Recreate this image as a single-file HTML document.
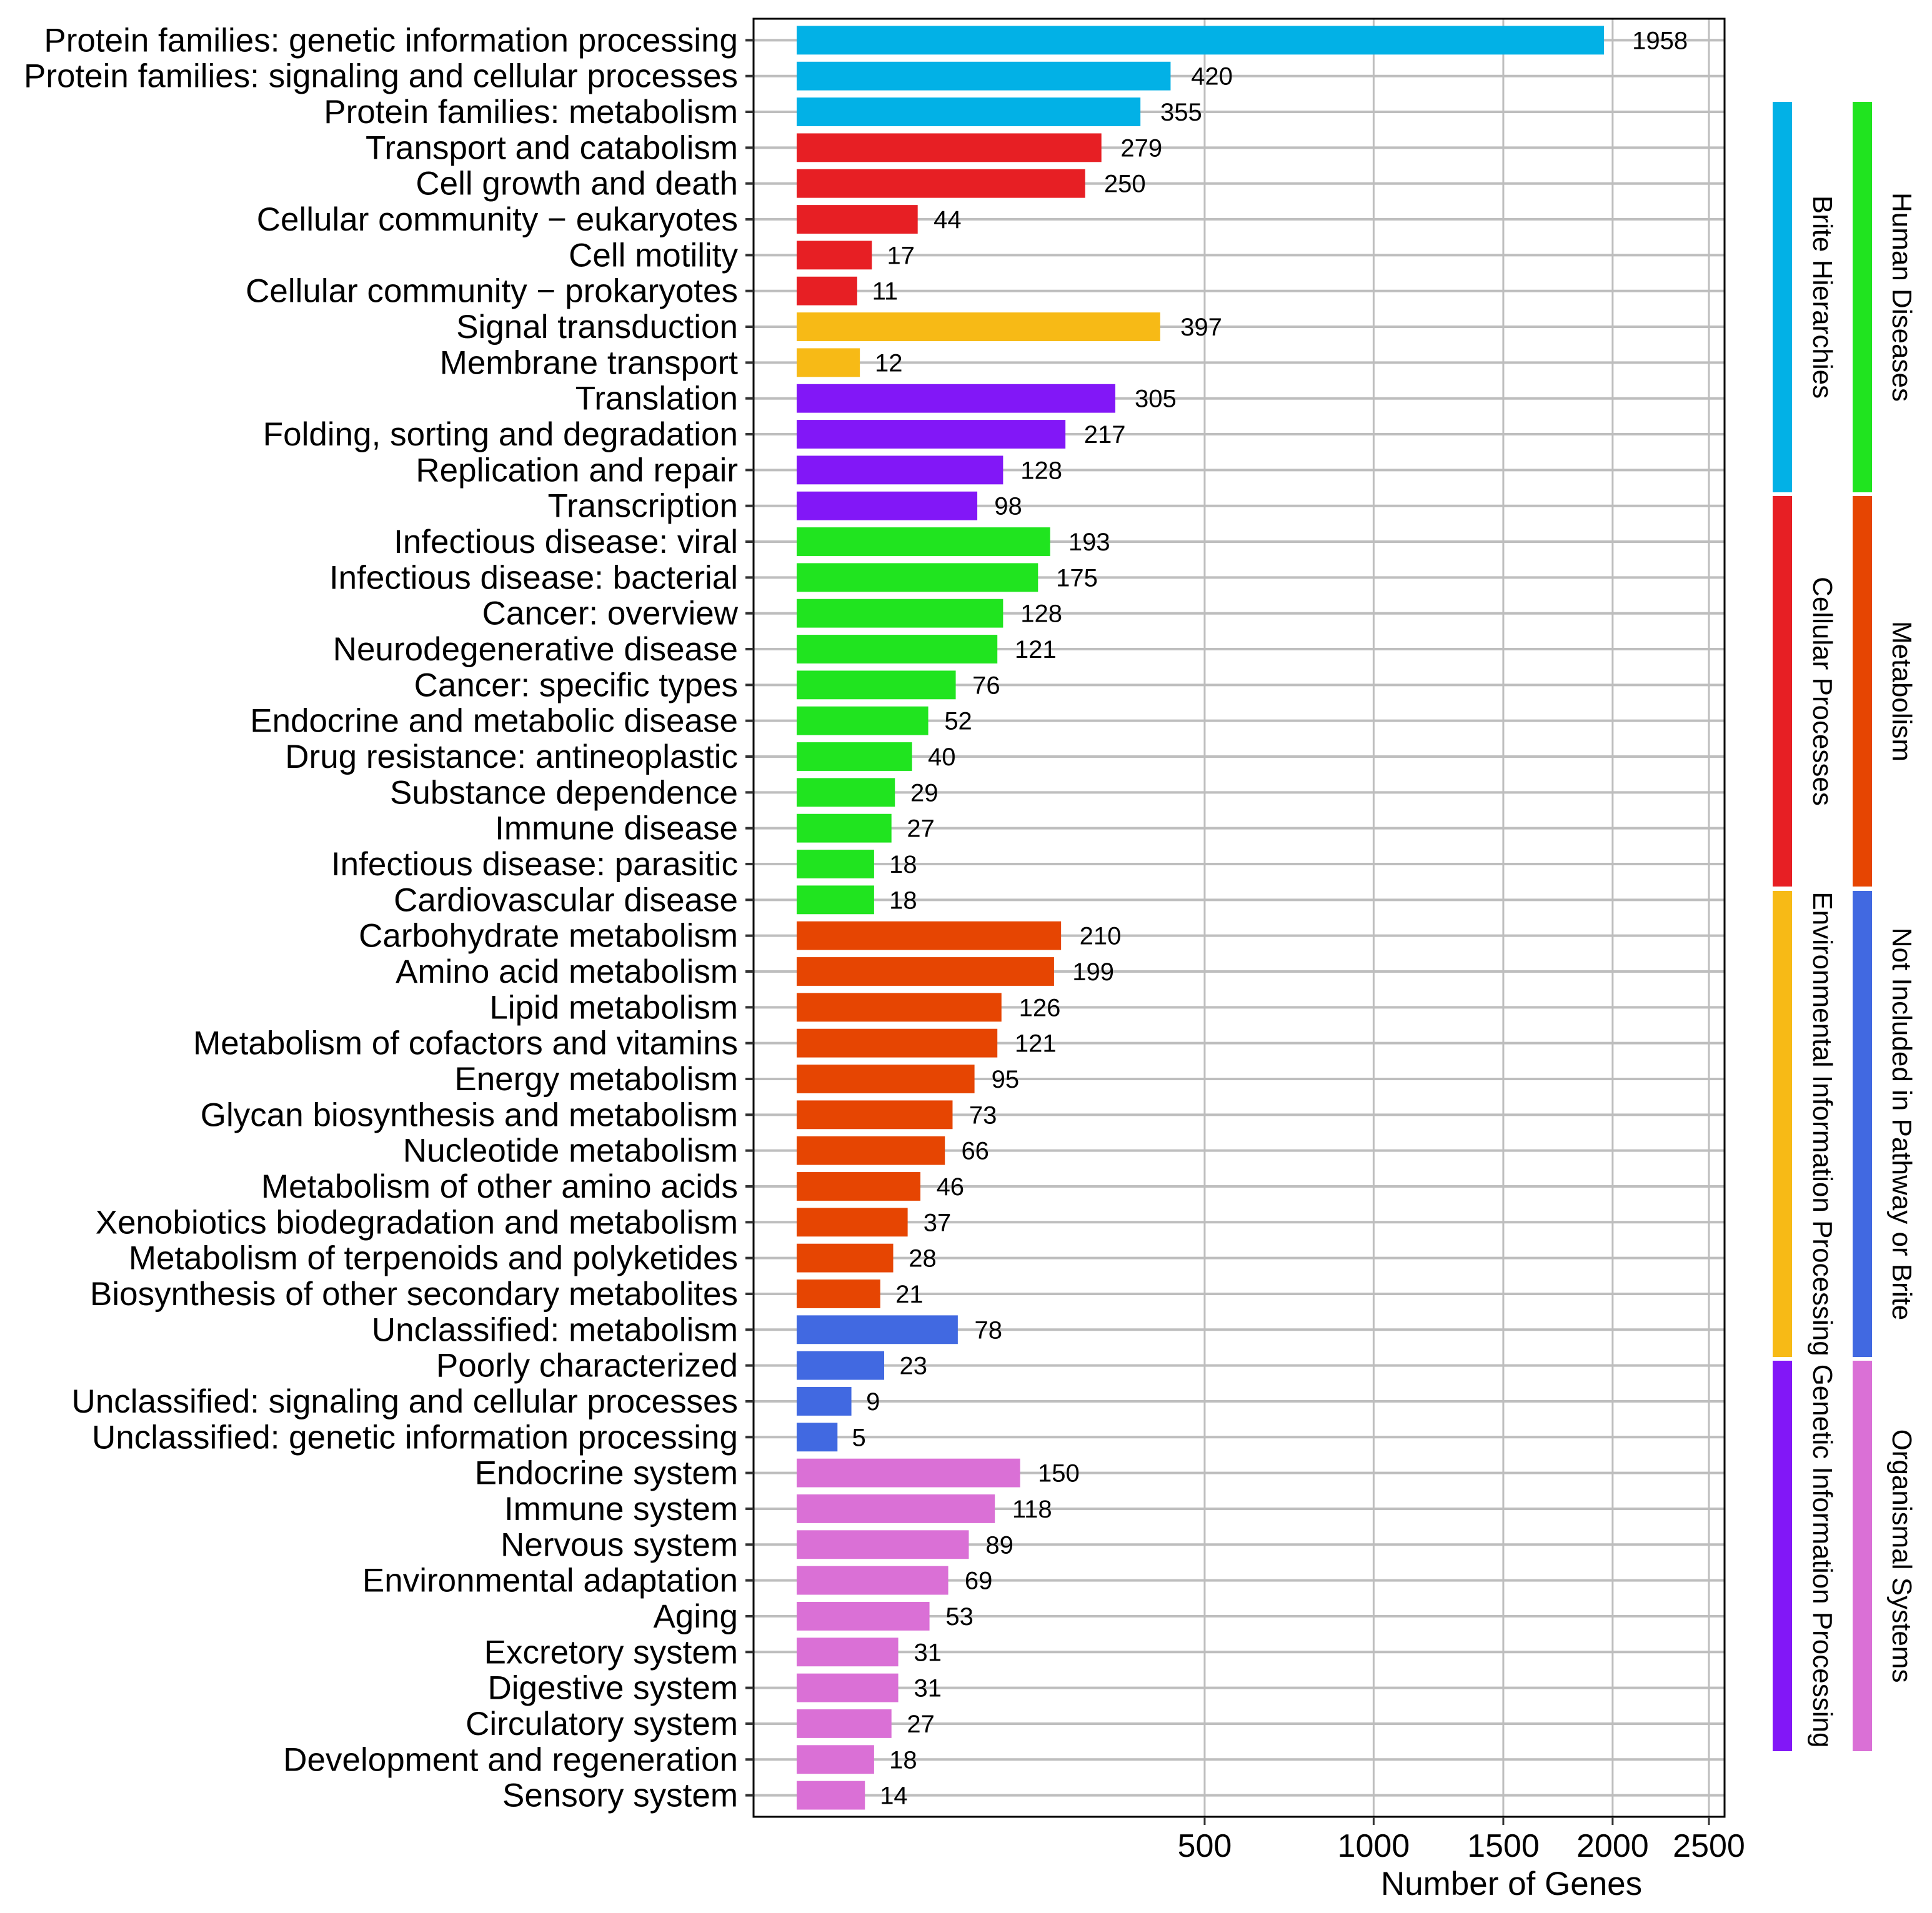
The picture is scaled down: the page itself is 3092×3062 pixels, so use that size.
<!DOCTYPE html>
<html><head><meta charset="utf-8"><style>
html,body{margin:0;padding:0;background:#fff;}
svg{display:block;font-family:"Liberation Sans",Arial,sans-serif;}
</style></head><body>
<svg id="chart" width="3092" height="3062" viewBox="0 0 3092 3062" xmlns="http://www.w3.org/2000/svg">
<rect x="0" y="0" width="3092" height="3062" fill="#fff"/>
<g id="grid"></g>
<g id="bars"></g>
<g id="vals"></g>
<rect x="1206" y="30" width="1554" height="2878" fill="none" stroke="#000" stroke-width="3"/>
<g id="yaxis"></g>
<g id="xaxis"></g>
<text x="2419" y="3033" font-size="53" text-anchor="middle">Number of Genes</text>
<g id="legend"></g>
</svg>
<script>
const categories = ["Protein families: genetic information processing","Protein families: signaling and cellular processes","Protein families: metabolism","Transport and catabolism","Cell growth and death","Cellular community \u2212 eukaryotes","Cell motility","Cellular community \u2212 prokaryotes","Signal transduction","Membrane transport","Translation","Folding, sorting and degradation","Replication and repair","Transcription","Infectious disease: viral","Infectious disease: bacterial","Cancer: overview","Neurodegenerative disease","Cancer: specific types","Endocrine and metabolic disease","Drug resistance: antineoplastic","Substance dependence","Immune disease","Infectious disease: parasitic","Cardiovascular disease","Carbohydrate metabolism","Amino acid metabolism","Lipid metabolism","Metabolism of cofactors and vitamins","Energy metabolism","Glycan biosynthesis and metabolism","Nucleotide metabolism","Metabolism of other amino acids","Xenobiotics biodegradation and metabolism","Metabolism of terpenoids and polyketides","Biosynthesis of other secondary metabolites","Unclassified: metabolism","Poorly characterized","Unclassified: signaling and cellular processes","Unclassified: genetic information processing","Endocrine system","Immune system","Nervous system","Environmental adaptation","Aging","Excretory system","Digestive system","Circulatory system","Development and regeneration","Sensory system"];
const values = [1958,420,355,279,250,44,17,11,397,12,305,217,128,98,193,175,128,121,76,52,40,29,27,18,18,210,199,126,121,95,73,66,46,37,28,21,78,23,9,5,150,118,89,69,53,31,31,27,18,14];
const groups = ["B","B","B","C","C","C","C","C","E","E","G","G","G","G","H","H","H","H","H","H","H","H","H","H","H","M","M","M","M","M","M","M","M","M","M","M","N","N","N","N","O","O","O","O","O","O","O","O","O","O"];
const groupNames = {B:"Brite Hierarchies",C:"Cellular Processes",E:"Environmental Information Processing",G:"Genetic Information Processing",H:"Human Diseases",M:"Metabolism",N:"Not Included in Pathway or Brite",O:"Organismal Systems"};
const groupColors = {B:"#02B1E6",C:"#E71F24",E:"#F7BA16",G:"#8217F7",H:"#20E41F",M:"#E64502",N:"#4169E1",O:"#DA70D6"};
const xTicks = [500,1000,1500,2000,2500];

const NS="http://www.w3.org/2000/svg";
function mk(tag,attrs,parent){const e=document.createElementNS(NS,tag);for(const k in attrs)e.setAttribute(k,attrs[k]);parent.appendChild(e);return e;}
const X0=1275,K=29.2;
function xs(v){return X0+Math.sqrt(v)*K;}
const panelTop=30,panelBot=2908,n=categories.length;
const step=(panelBot-panelTop)/(n-1+1.2);
function ys(i){return panelTop+step*(0.6+i);}
const bh=step*0.8;

const grid=document.getElementById('grid'),bars=document.getElementById('bars'),vals=document.getElementById('vals'),yaxis=document.getElementById('yaxis'),xaxis=document.getElementById('xaxis');
xTicks.forEach(t=>{
  const gl=mk('line',{x1:xs(t),x2:xs(t),y1:panelTop,y2:panelBot,stroke:'#BEBEBE','stroke-width':3},grid);
  
  
  const tk=mk('line',{x1:xs(t),x2:xs(t),y1:panelBot,y2:panelBot+13,stroke:'#333','stroke-width':3},xaxis);
  
  
  const tl=mk('text',{x:xs(t),y:2972,'font-size':52,'text-anchor':'middle'},xaxis);
  tl.textContent=t;
  
  
});
categories.forEach((c,i)=>{
  const y=ys(i);
  const gl=mk('line',{x1:1206,x2:2760,y1:y,y2:y,stroke:'#BEBEBE','stroke-width':4},grid);
  
  
  const b=mk('rect',{x:X0,y:y-bh/2,width:xs(values[i])-X0,height:bh,fill:groupColors[groups[i]]},bars);
  
  
  const v=mk('text',{x:xs(values[i])+22+0.52*Math.sqrt(values[i]),y:y+14,'font-size':40},vals);
  v.textContent=values[i];
  
  
  const tk=mk('line',{x1:1193,x2:1206,y1:y,y2:y,stroke:'#333','stroke-width':4},yaxis);
  
  
  const tl=mk('text',{x:1181,y:y+18,'font-size':53,'text-anchor':'end'},yaxis);
  tl.textContent=c;
  
  
});
const legend=document.getElementById('legend');
const leftCol=[["B",163,788],["C",794,1419],["E",1426,2172],["G",2178,2803]];
const rightCol=[["H",163,788],["M",794,1419],["N",1426,2172],["O",2178,2803]];
function drawCol(col,kx,tx){
  col.forEach(([g,a,b])=>{
    const r=mk('rect',{x:kx,y:a,width:31,height:b-a,fill:groupColors[g]},legend);
    
    
    const t=mk('text',{x:0,y:15,'font-size':44,'text-anchor':'middle',transform:`translate(${tx},${(a+b)/2}) rotate(90)`},legend);
    t.textContent=groupNames[g];
    
    
  });
}
drawCol(leftCol,2837,2917);
drawCol(rightCol,2965,3044);
</script>
</body></html>
